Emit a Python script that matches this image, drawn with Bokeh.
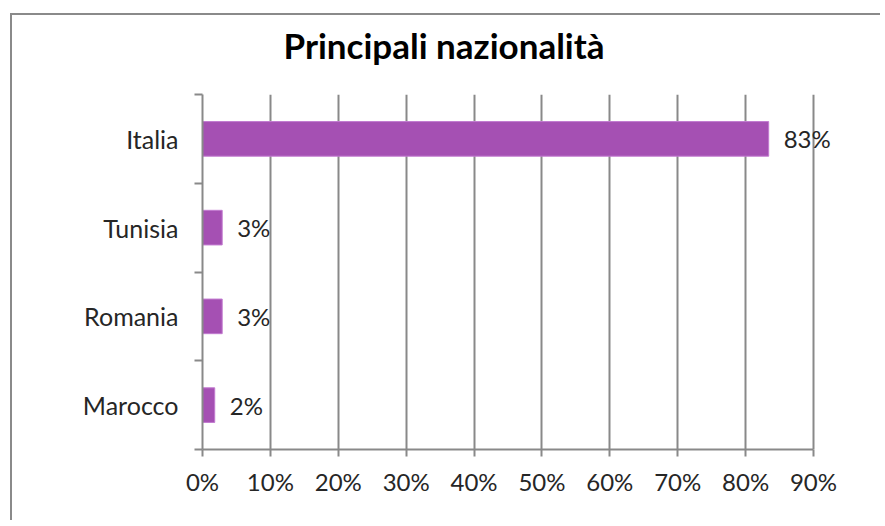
from bokeh.plotting import figure
from bokeh.models import Range1d, FixedTicker, ColumnDataSource
from bokeh.core.properties import value
from bokeh.embed import file_html
from bokeh.resources import INLINE

# ---- data ----
countries = ["Italia", "Tunisia", "Romania", "Marocco"]
shares = [0.834, 0.029, 0.029, 0.018]
share_labels = ["83%", "3%", "3%", "2%"]
x_ticks = [0.0, 0.1, 0.2, 0.3, 0.4, 0.5, 0.6, 0.7, 0.8, 0.9]
x_tick_labels = ["0%", "10%", "20%", "30%", "40%", "50%", "60%", "70%", "80%", "90%"]
title_text = "Principali nazionalità"

n = len(countries)
ypos = [n - i - 0.5 for i in range(n)]
boundaries = [float(i) for i in range(n + 1)]

src = ColumnDataSource(dict(y=ypos, x=shares, lab=share_labels, name=countries))

FONT = "Lato"
GRAY = "#898989"
TXT = "#262626"

SHIFT = 8  # canvas starts this many px above the page top
W, H = 880, 520 + SHIFT
ML, MR, MT, MB = 202, 10, 94 + SHIFT, 71
frame_w = W - ML - MR
axis_px = 611.0  # pixels spanning 0..90%
x_end = x_ticks[-1] * frame_w / axis_px

p = figure(width=W, height=H, output_backend="svg", toolbar_location=None,
           x_range=Range1d(0, x_end), y_range=Range1d(0, n),
           min_border_left=ML, min_border_right=MR, min_border_top=MT, min_border_bottom=MB)
p.margin = (-SHIFT, 0, 0, 0)
p.styles = {
    "background-image": "linear-gradient(#8a8a8a, #8a8a8a), linear-gradient(#8a8a8a, #8a8a8a)",
    "background-size": "2px 100%, 100% 2px",
    "background-position": "10px %dpx, 10px %dpx" % (13 + SHIFT, 13 + SHIFT),
    "background-repeat": "no-repeat",
}
p.outline_line_color = None
p.background_fill_color = "white"
p.border_fill_color = None

p.title.text = title_text
p.title.align = "left"
p.title.offset = 81
p.title.text_font = FONT
p.title.text_font_style = "bold"
p.title.text_font_size = "35px"
p.title.text_color = "black"
p.title.text_line_height = 0.6
p.title.standoff = 58

p.hbar(y="y", right="x", left=0, height=0.39, source=src,
       fill_color="#A550B3", line_color="#C27AD0", line_width=1)

p.text(x="x", y="y", text="lab", source=src, x_offset=15,
       text_font=value(FONT), text_font_size="24px", text_color=TXT,
       text_align="left", text_baseline="middle")

# x axis
xa = p.xaxis[0]
xa.bounds = (x_ticks[0], x_ticks[-1])
xa.ticker = FixedTicker(ticks=x_ticks)
xa.major_label_overrides = {t: l for t, l in zip(x_ticks, x_tick_labels)}
xa.axis_line_color = GRAY
xa.axis_line_width = 2
xa.major_tick_line_color = GRAY
xa.major_tick_line_width = 2
xa.major_tick_in = 0
xa.major_tick_out = 7
xa.minor_tick_line_color = None
xa.major_label_text_font = FONT
xa.major_label_text_font_size = "24px"
xa.major_label_text_color = TXT
xa.major_label_standoff = 10

# y axis
ya = p.yaxis[0]
ya.ticker = FixedTicker(ticks=ypos, minor_ticks=boundaries)
ya.major_label_overrides = {y: c for y, c in zip(ypos, countries)}
ya.axis_line_color = GRAY
ya.axis_line_width = 2
ya.major_tick_line_color = None
ya.major_tick_in = 0
ya.major_tick_out = 0
ya.minor_tick_line_color = GRAY
ya.minor_tick_line_width = 2
ya.minor_tick_in = 0
ya.minor_tick_out = 8
ya.major_label_text_font = FONT
ya.major_label_text_font_size = "25px"
ya.major_label_text_color = TXT
ya.major_label_standoff = 16

p.xgrid.ticker = FixedTicker(ticks=x_ticks)
p.xgrid.grid_line_color = GRAY
p.xgrid.grid_line_width = 2
p.ygrid.grid_line_color = None

open("out.html", "w").write(file_html(p, INLINE))
